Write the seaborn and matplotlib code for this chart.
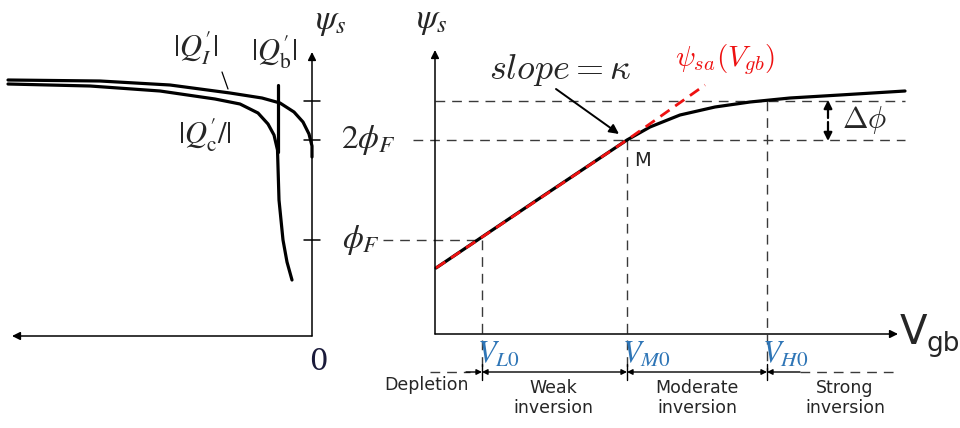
import matplotlib
matplotlib.use("Agg")
import matplotlib.pyplot as plt
import numpy as np
import pandas as pd
import seaborn as sns

sns.set_theme(style="white")
plt.rcParams["font.family"] = ["DejaVu Sans"]
plt.rcParams["mathtext.fontset"] = "stix"

# ---- left panel: charge curves (canvas units, y grows downward) ----
qi_x = [8, 100, 170, 230, 262, 280, 294, 303, 309, 312, 312]
qi_y = [80, 81, 85, 93, 98, 103, 112, 122, 134, 146, 157]

qc_x = [8, 90, 160, 215, 240, 258, 268, 274, 277.5, 279, 283, 287, 292]
qc_y = [84, 86, 91, 99, 104, 113, 124, 135, 150, 200, 240, 262, 280]

qb_x = [278, 278]
qb_y = [85, 152]

# ---- right panel: surface potential vs gate voltage ----
psi_x = [436, 482, 540, 600, 627, 650, 680, 715, 750, 790, 840, 905]
psi_y = [268, 237, 198, 158, 140, 127, 115, 107, 102, 98, 95, 91]

sa_x = [436, 627, 705]
sa_y = [268, 140, 85]

# reference levels and characteristic voltages
level_names = ["phiF", "2phiF", "2phiF+dphi"]
level_y = [240, 140, 101]
volt_labels = [r"$V_{L0}$", r"$V_{M0}$", r"$V_{H0}$"]
volt_x = [482, 627, 767]
region_labels = ["Depletion", "Weak\ninversion", "Moderate\ninversion", "Strong\ninversion"]
region_x = [427, 553, 697, 845]

fig = plt.figure(figsize=(9.6, 4.28), dpi=100)
ax = fig.add_axes([0, 0, 1, 1])
ax.set_xlim(0, 960)
ax.set_ylim(428, 0)
ax.axis("off")

blk = "black"
grey = "#3a3a3a"
lw_curve = 2.3
lw_axis = 1.1
dash = (0, (7, 5))

def curve(xs, ys, **kw):
    df = pd.DataFrame({"x": xs, "y": ys})
    sns.lineplot(data=df, x="x", y="y", sort=False, estimator=None, ax=ax, **kw)

def arrow(x0, y0, x1, y1, style="-|>", lw=lw_axis, ms=12, color=blk):
    ax.annotate("", xy=(x1, y1), xytext=(x0, y0),
                arrowprops=dict(arrowstyle=style, lw=lw, color=color,
                                mutation_scale=ms, shrinkA=0, shrinkB=0))

# left panel axes
arrow(312, 336, 312, 52)
arrow(312, 336, 12, 336)
for yy in level_y:
    ax.plot([304, 320], [yy, yy], color=blk, lw=lw_axis)
ax.text(331, 21, r"$\psi_s$", fontsize=25, ha="center", va="center")
ax.text(318, 362, "0", fontsize=21, ha="center", va="center", family="DejaVu Serif",
        color="#1a1a3a")

curve(qi_x, qi_y, color=blk, lw=lw_curve)
curve(qc_x, qc_y, color=blk, lw=lw_curve)
curve(qb_x, qb_y, color=blk, lw=lw_curve)
ax.plot([222, 228], [72, 89], color=blk, lw=0.9)

ax.text(196, 48, r"$|Q_I^{\prime}|$", fontsize=22, ha="center", va="center")
ax.text(274, 52, r"$|Q_{\mathrm{b}}^{\prime}|$", fontsize=22, ha="center", va="center")
ax.text(205, 135, r"$|Q_{\mathrm{c}}^{\prime}/|$", fontsize=22, ha="center", va="center")

# level labels between panels
ax.text(368, 140, r"$2\phi_F$", fontsize=24, ha="center", va="center")
ax.text(361, 240, r"$\phi_F$", fontsize=24, ha="center", va="center")

# right panel axes
arrow(435, 334, 435, 50)
arrow(435, 334, 898, 334)
ax.text(432, 20, r"$\psi_s$", fontsize=25, ha="center", va="center")
ax.text(900, 333, "V", fontsize=29, ha="left", va="center")
ax.text(927, 344, "gb", fontsize=19, ha="left", va="center")

# guide lines
ax.plot([435, 905], [level_y[2], level_y[2]], color=grey, lw=1.0, ls=dash)
ax.plot([413, 905], [level_y[1], level_y[1]], color=grey, lw=1.0, ls=dash)
ax.plot([383, 482], [level_y[0], level_y[0]], color=grey, lw=1.0, ls=dash)
ax.plot([volt_x[0], volt_x[0]], [level_y[0], 372], color=grey, lw=1.0, ls=dash)
ax.plot([volt_x[1], volt_x[1]], [level_y[1], 372], color=grey, lw=1.0, ls=dash)
ax.plot([volt_x[2], volt_x[2]], [level_y[2], 372], color=grey, lw=1.0, ls=dash)

# curves
curve(psi_x, psi_y, color=blk, lw=lw_curve)
curve(sa_x, sa_y, color="#ee1111", lw=2.0, linestyle=(0, (4, 2.5)))

ax.text(560, 70, r"$\mathit{slope}=\kappa$", fontsize=26, ha="center", va="center",
        math_fontfamily="cm")
arrow(556, 89, 619, 134, lw=1.4, ms=14)
ax.text(725, 60, r"$\psi_{sa}(V_{gb})$", fontsize=21, ha="center", va="center",
        color="#ee1111", math_fontfamily="cm")
ax.text(642, 160, "M", fontsize=14, ha="center", va="center")

# delta phi marker
arrow(828, 118, 828, 100, lw=1.6, ms=12)
arrow(828, 122, 828, 141, lw=1.6, ms=12)
ax.text(864, 120, r"$\Delta\phi$", fontsize=22, ha="center", va="center",
        math_fontfamily="cm")

# characteristic voltages
for lab, xx in zip(volt_labels, volt_x):
    ax.text(xx - 5, 354, lab, fontsize=22, ha="left", va="center", color="#2e75b6")

# operating-region bar
ybar = 372
ax.plot([430, 470], [ybar, ybar], color=grey, lw=1.0, ls=dash)
arrow(466, ybar, volt_x[0], ybar, style="-|>", lw=1.0, ms=8)
arrow(volt_x[0], ybar, volt_x[1], ybar, style="<|-|>", lw=1.0, ms=8)
arrow(volt_x[1], ybar, volt_x[2], ybar, style="<|-|>", lw=1.0, ms=8)
arrow(800, ybar, volt_x[2], ybar, style="-|>", lw=1.0, ms=8)
ax.plot([800, 895], [ybar, ybar], color=grey, lw=1.0, ls=dash)
for xx in volt_x:
    ax.plot([xx, xx], [364, 380], color=blk, lw=1.0)

for lab, xx in zip(region_labels, region_x):
    yy = 385 if "\n" not in lab else 398
    ax.text(xx, yy, lab, fontsize=12.5, ha="center", va="center", linespacing=1.2)

fig.savefig("out.png", dpi=100)
